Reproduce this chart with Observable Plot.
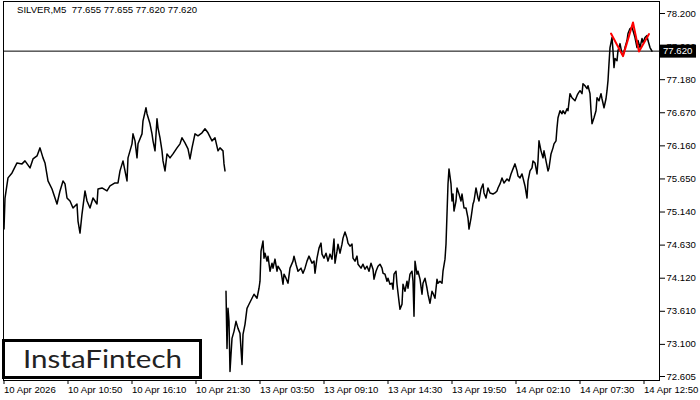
<!DOCTYPE html>
<html><head><meta charset="utf-8">
<script src="https://cdn.jsdelivr.net/npm/d3@7"></script>
<script src="https://cdn.jsdelivr.net/npm/@observablehq/plot@0.6"></script>
<style>
body{margin:0;background:#fff;}
#wrap{position:relative;width:700px;height:400px;overflow:hidden;background:#fff;}
#chart{position:absolute;left:0;top:0;}
#title{position:absolute;left:17px;top:4px;font-size:9.6px;font-family:'Liberation Sans',Arial,sans-serif;color:#000;white-space:pre;}
#logo{position:absolute;left:2px;top:339px;}
</style></head><body>
<div id="wrap"><div id="chart"></div><div id="title"></div>
<svg id="logo" width="202" height="41"><rect x="1.5" y="1.5" width="197" height="37" fill="#fff" stroke="#000" stroke-width="3"></rect><text x="21" y="29" font-family="Lato, 'Open Sans', sans-serif" font-size="25" fill="#222" textLength="159" lengthAdjust="spacingAndGlyphs">InstaFintech</text></svg>
</div>
<script>
const symbolName = "SILVER,M5";
const lastOHLC = [77.655, 77.655, 77.620, 77.620];
const lastClose = 77.620;

const yTicks = [72.605, 73.100, 73.610, 74.120, 74.630, 75.140, 75.650, 76.160, 76.670, 77.180, 77.690, 78.200];
const xTickBars = [0, 64, 128, 192, 256, 320, 384, 448, 512, 576, 640];
const xTickLabels = ["10 Apr 2026","10 Apr 10:50","10 Apr 16:10","10 Apr 21:30","13 Apr 03:50","13 Apr 09:10","13 Apr 14:30","13 Apr 19:50","14 Apr 02:10","14 Apr 07:30","14 Apr 12:50"];

// Friday 10 Apr session (bar index, close)
const friBars = [0,1,4,8,13,18,21,26,29,33,
36,39,41,44,48,51,53,56,59,61,
63,66,69,73,74,76,78,81,83,86,
89,93,94,98,103,106,111,114,116,119,
121,123,124,128,129,131,133,134,138,139,
142,143,146,148,149,151,153,154,156,158,
159,161,163,166,169,173,176,178,181,184,
186,188,191,194,198,201,204,208,211,214,
216,219,220,221];
const friPrices = [74.877,75.356,75.666,75.743,75.897,75.882,75.928,75.820,75.959,76.005,
76.129,75.975,75.897,75.619,75.495,75.356,75.264,75.465,75.619,75.573,
75.356,75.310,75.202,75.264,75.001,74.815,75.109,75.465,75.310,75.202,
75.356,75.264,75.495,75.511,75.465,75.542,75.588,75.588,75.774,75.928,
75.774,75.619,75.975,76.191,76.345,76.237,75.975,76.191,76.345,76.546,
76.747,76.655,76.500,76.345,76.237,76.083,76.577,76.438,76.284,76.083,
75.928,75.774,76.036,75.975,76.036,76.129,76.191,76.284,76.206,76.114,
75.959,76.129,76.345,76.315,76.361,76.423,76.361,76.237,76.284,76.083,
76.129,76.083,75.882,75.774];

// 13-14 Apr sessions
const monBars = [222,223,224,225,226,227,228,230,232,234,
236,238,239,241,243,245,248,250,253,255,
256,257,259,260,261,263,264,266,268,269,
271,273,274,277,279,280,282,284,286,289,
290,292,294,297,299,301,303,305,308,310,
311,313,315,317,318,320,322,324,326,328,
330,331,333,334,336,338,339,341,343,344,
346,348,349,351,353,354,357,359,361,363,
365,367,369,370,372,374,376,378,379,381,
383,384,386,388,389,390,392,393,395,396,
398,399,401,403,404,406,408,409,410,411,
413,414,416,418,419,421,423,424,426,428,
429,431,433,434,436,438,439,441,442,443,
444,445,447,448,449,450,452,453,455,457,
458,460,462,464,465,467,469,470,472,474,
475,477,479,480,482,484,486,489,491,493,
494,496,498,500,503,505,507,509,511,513,
514,516,518,519,521,523,524,526,528,529,
531,533,534,535,537,539,540,542,544,545,
547,549,550,552,553,554,556,558,559,561,
563,564,566,568,569,571,573,574,576,578,
579,581,583,584,586,587,588,590,592,593,
595,597,598,600,602,603,604,605,606,607,
608,609,610,611,613,614,616,618,619,621,
623,624,626,628,629,631,633,634,636,638,
639,641,643,644,646,648];
const monPrices = [73.919,73.038,73.656,73.455,72.683,72.945,73.193,73.301,73.455,73.347,
73.270,72.791,73.254,73.409,73.656,73.718,73.811,73.873,73.811,73.965,
74.074,74.537,74.692,74.429,74.506,74.383,74.460,74.228,74.352,74.275,
74.414,74.228,74.305,74.228,74.027,74.182,74.120,74.043,74.275,74.383,
74.460,74.336,74.228,74.275,74.197,74.275,74.383,74.460,74.352,74.383,
74.197,74.429,74.584,74.661,74.491,74.429,74.506,74.383,74.491,74.414,
74.723,74.352,74.537,74.645,74.506,74.645,74.738,74.831,74.738,74.661,
74.614,74.645,74.429,74.383,74.460,74.336,74.275,74.336,74.259,74.305,
74.228,74.352,74.259,74.105,74.228,74.305,74.336,74.275,74.197,74.182,
74.074,74.120,74.027,74.043,73.950,74.182,74.228,74.027,73.764,73.641,
73.718,74.027,73.919,74.074,73.965,74.182,74.228,74.074,73.533,74.383,
74.182,74.228,74.105,73.873,74.043,74.120,73.965,73.873,73.734,73.919,
73.888,73.811,74.105,74.043,74.074,74.043,74.228,74.414,74.645,75.109,
75.573,75.805,75.573,75.310,75.418,75.156,75.310,75.511,75.418,75.310,
75.418,75.202,75.202,75.047,74.877,75.047,75.264,75.310,75.511,75.356,
75.310,75.495,75.573,75.434,75.356,75.511,75.434,75.418,75.434,75.465,
75.511,75.573,75.666,75.588,75.650,75.619,75.727,75.805,75.882,75.774,
75.696,75.666,75.727,75.666,75.542,75.356,75.619,75.774,75.820,75.928,
75.897,75.727,75.928,76.237,76.083,75.975,76.083,75.928,75.774,75.820,
76.036,76.129,76.191,76.237,76.438,76.593,76.701,76.655,76.701,76.655,
76.732,76.701,76.964,76.902,76.886,76.855,76.933,76.964,77.010,76.964,
77.118,77.087,77.041,77.087,76.964,76.701,76.500,76.593,76.701,76.902,
76.855,76.964,76.886,76.747,76.886,77.010,77.165,77.427,77.674,77.752,
77.829,77.628,77.366,77.505,77.474,77.628,77.736,77.582,77.551,77.675,
77.783,77.891,77.968,77.984,77.937,77.829,77.675,77.783,77.675,77.814,
77.752,77.829,77.860,77.783,77.675,77.620];

// Red pattern (double top) vertices
const patternBars = [607, 619, 629, 635, 645];
const patternPrices = [77.891, 77.543, 78.061, 77.613, 77.883];

const toRows = (bars, prices) => bars.map((b, i) => ({bar: b, price: prices[i]}));
const fri = toRows(friBars, friPrices);
const mon = toRows(monBars, monPrices);
const pattern = toRows(patternBars, patternPrices);

document.getElementById("title").textContent = symbolName + "  " + lastOHLC.map(v => v.toFixed(3)).join(" ");

const font = "'Liberation Sans',Arial,sans-serif";
const chart = Plot.plot({
  width: 700, height: 400,
  marginLeft: 3, marginRight: 41, marginTop: 1, marginBottom: 20,
  style: {fontFamily: font, fontSize: "9.6px", color: "#000", background: "#fff", overflow: "visible"},
  x: {domain: [0, 655], range: [3.5, 658.5]},
  y: {domain: [72.605, 78.2], range: [376, 13]},
  marks: [
    Plot.frame({stroke: "#000"}),
    Plot.axisY(yTicks, {anchor: "right", tickSize: 5, tickPadding: 2, textAnchor: "start", tickFormat: d => d.toFixed(3), label: null, fill: "#000"}),
    Plot.axisX(xTickBars, {anchor: "bottom", tickSize: 4, tickPadding: 2, textAnchor: "start", tickFormat: d => xTickLabels[xTickBars.indexOf(d)], label: null, fill: "#000"}),
    Plot.ruleY([lastClose], {stroke: "#000", strokeWidth: 1}),
    Plot.line(fri, {x: "bar", y: "price", stroke: "#000", strokeWidth: 1.5}),
    Plot.line(mon, {x: "bar", y: "price", stroke: "#000", strokeWidth: 1.5}),
    Plot.line(pattern, {x: "bar", y: "price", stroke: "#ff0000", strokeWidth: 2})
  ]
});
document.getElementById("chart").appendChild(chart);

// current price label on the right axis
const yPos = chart.scale("y").apply(lastClose);
const svg = d3.select(chart);
const g = svg.append("g");
g.append("rect").attr("x", 660).attr("y", yPos - 6).attr("width", 36).attr("height", 13).attr("fill", "#000");
g.append("text").attr("x", 663).attr("y", yPos + 0.5).attr("dy", "0.35em").attr("fill", "#fff")
  .attr("text-anchor", "start").attr("font-family", font).attr("font-size", 9.6).text(lastClose.toFixed(3));
</script>
</body></html>
